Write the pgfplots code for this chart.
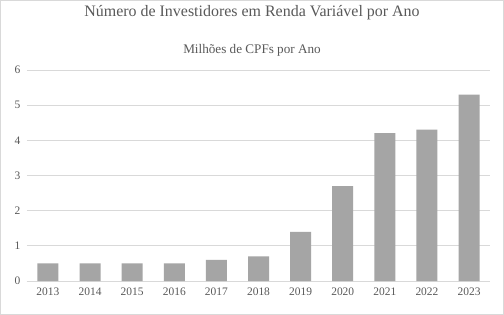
\documentclass[border=0pt]{standalone}
\usepackage{fontspec}
\setmainfont{Liberation Serif}
\usepackage{pgfplots}
\pgfplotsset{compat=1.18}
\definecolor{bargray}{HTML}{A5A5A5}
\definecolor{gridgray}{HTML}{D9D9D9}
\definecolor{textgray}{HTML}{595959}
\begin{document}
\begin{tikzpicture}[x=1bp,y=1bp]
\draw[gridgray, line width=0.75bp, fill=white] (0.5,0.5) rectangle (503.5,314.5);
\node[textgray, font=\fontsize{16}{18}\selectfont] at (252,302) {Número de Investidores em Renda Variável por Ano};
\node[textgray, font=\fontsize{13.2}{15}\selectfont] at (252,265) {Milhões de CPFs por Ano};
\begin{axis}[
  at={(27bp,34bp)}, anchor=south west,
  scale only axis, width=463bp, height=211bp,
  ybar, bar width=21bp,
  xmin=-0.5, xmax=10.5, ymin=0, ymax=6,
  xtick={0,...,10},
  xticklabels={2013,2014,2015,2016,2017,2018,2019,2020,2021,2022,2023},
  ytick={0,1,2,3,4,5,6},
  ymajorgrids, grid style={gridgray, line width=0.75bp},
  axis x line*=bottom, axis y line*=left,
  x axis line style={gridgray, line width=0.75bp, -},
  y axis line style={draw=none},
  major tick length=0pt,
  tick label style={textgray, font=\fontsize{11.5}{13}\selectfont},
  /pgf/number format/assume math mode=true,
  yticklabel style={xshift=-3bp},
  xticklabel style={yshift=-3bp},
  clip=false,
]
\addplot[fill=bargray, draw=none] coordinates {
(0,0.5) (1,0.5) (2,0.5) (3,0.5) (4,0.6) (5,0.7) (6,1.4) (7,2.7) (8,4.2) (9,4.3) (10,5.3)};
\end{axis}
\end{tikzpicture}
\end{document}
